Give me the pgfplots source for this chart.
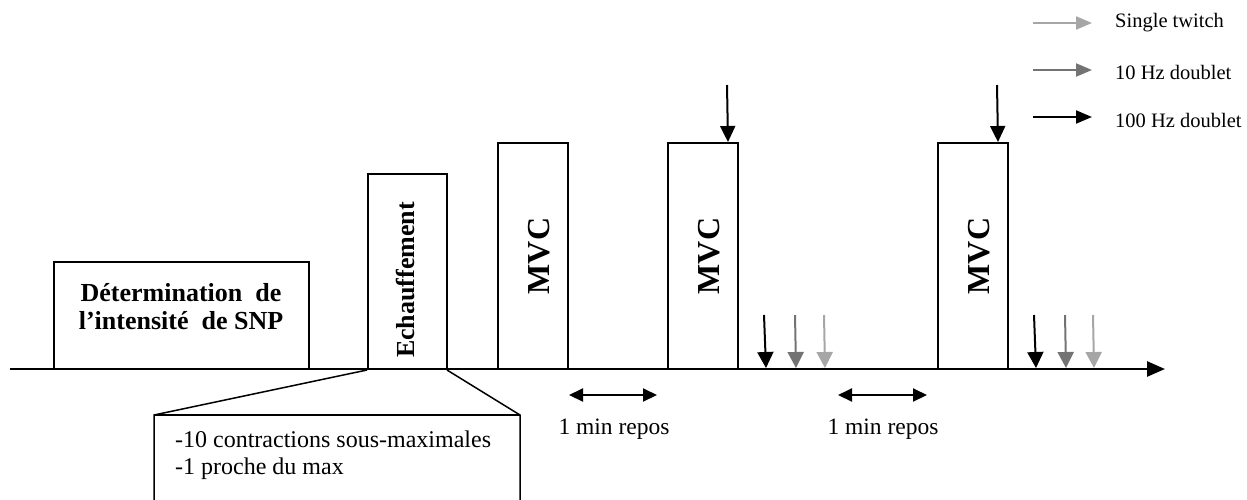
\documentclass[border=0pt]{standalone}
\usepackage{pgfplots}
\pgfplotsset{compat=1.18}
\usepackage{fontspec}
\setmainfont{Liberation Serif}
\usetikzlibrary{arrows.meta}
\definecolor{lg}{gray}{0.65}
\definecolor{dg}{gray}{0.45}
\begin{document}
\begin{tikzpicture}
\clip (0,0) rectangle (1247pt,499pt);
\begin{axis}[scale only axis, width=1247pt, height=499pt,
  xmin=0, xmax=1247, ymin=0, ymax=499, y dir=reverse,
  hide axis, clip=false]
% baseline
\addplot[black, line width=2.6pt, -{Triangle[length=18pt,width=15pt]}] coordinates {(10,369) (1165,369)};
% boxes
\addplot[black, line width=1.5pt] coordinates {(54,369) (54,262) (309,262) (309,369)};
\addplot[black, line width=1.5pt] coordinates {(368,369) (368,174) (447,174) (447,369)};
\addplot[black, line width=1.5pt] coordinates {(498,369) (498,143) (568,143) (568,369)};
\addplot[black, line width=1.5pt] coordinates {(668,369) (668,143) (738,143) (738,369)};
\addplot[black, line width=1.5pt] coordinates {(938,369) (938,143) (1008,143) (1008,369)};
% callout
\addplot[black, line width=1.5pt] coordinates {(367,370) (154,415) (154,510)};
\addplot[black, line width=1.5pt] coordinates {(154,415) (520,415)};
\addplot[black, line width=1.5pt] coordinates {(447,370) (520,415) (520,510)};
% arrows above MVC
\addplot[black, line width=2pt, -{Triangle[length=16pt,width=15pt]}] coordinates {(727,85) (728,142)};
\addplot[black, line width=2pt, -{Triangle[length=16pt,width=15pt]}] coordinates {(997,85) (998,142)};
% stimulation arrows
\addplot[black, line width=2pt, -{Triangle[length=16pt,width=16pt]}] coordinates {(764,315) (766,368)};
\addplot[dg, line width=2pt, -{Triangle[length=16pt,width=16pt]}] coordinates {(795,315) (796,368)};
\addplot[lg, line width=2pt, -{Triangle[length=16pt,width=16pt]}] coordinates {(824,315) (825,368)};
\addplot[black, line width=2pt, -{Triangle[length=16pt,width=16pt]}] coordinates {(1034,315) (1036,368)};
\addplot[dg, line width=2pt, -{Triangle[length=16pt,width=16pt]}] coordinates {(1065,315) (1066,368)};
\addplot[lg, line width=2pt, -{Triangle[length=16pt,width=16pt]}] coordinates {(1093,315) (1094,368)};
% rest intervals
\addplot[black, line width=2pt, {Triangle[length=14pt,width=13pt]}-{Triangle[length=14pt,width=13pt]}] coordinates {(569,395) (657,395)};
\addplot[black, line width=2pt, {Triangle[length=14pt,width=13pt]}-{Triangle[length=14pt,width=13pt]}] coordinates {(838,395) (927,395)};
% legend arrows
\addplot[lg, line width=2pt, -{Triangle[length=16pt,width=13pt]}] coordinates {(1033,23) (1092,23)};
\addplot[dg, line width=2pt, -{Triangle[length=16pt,width=13pt]}] coordinates {(1033,70) (1092,70)};
\addplot[black, line width=2pt, -{Triangle[length=16pt,width=13pt]}] coordinates {(1033,117) (1092,117)};
% texts
\node[anchor=west, inner sep=0pt, font=\fontsize{20.5}{24}\selectfont] at (axis cs:1115,23) {Single twitch};
\node[anchor=west, inner sep=0pt, font=\fontsize{20.5}{24}\selectfont] at (axis cs:1115,72) {10 Hz doublet};
\node[anchor=west, inner sep=0pt, font=\fontsize{20.5}{24}\selectfont] at (axis cs:1115,120) {100 Hz doublet};
\node[align=center, font=\fontsize{26}{28}\selectfont\bfseries] at (axis cs:181,307) {Détermination\ \ de\\l’intensité\ \ de SNP};
\node[rotate=90, font=\fontsize{26}{30}\selectfont\bfseries] at (axis cs:405,280) {Echauffement};
\node[rotate=90, font=\fontsize{32}{36}\selectfont\bfseries] at (axis cs:539,256) {MVC};
\node[rotate=90, font=\fontsize{32}{36}\selectfont\bfseries] at (axis cs:709,256) {MVC};
\node[rotate=90, font=\fontsize{32}{36}\selectfont\bfseries] at (axis cs:979,256) {MVC};
\node[font=\fontsize{23.5}{26}\selectfont] at (axis cs:614,429) {1 min repos};
\node[font=\fontsize{23.5}{26}\selectfont] at (axis cs:883,429) {1 min repos};
\node[anchor=west, align=left, inner sep=0pt, font=\fontsize{24}{27}\selectfont] at (axis cs:175,455) {-10 contractions sous-maximales\\-1 proche du max};
\end{axis}
\end{tikzpicture}
\end{document}
